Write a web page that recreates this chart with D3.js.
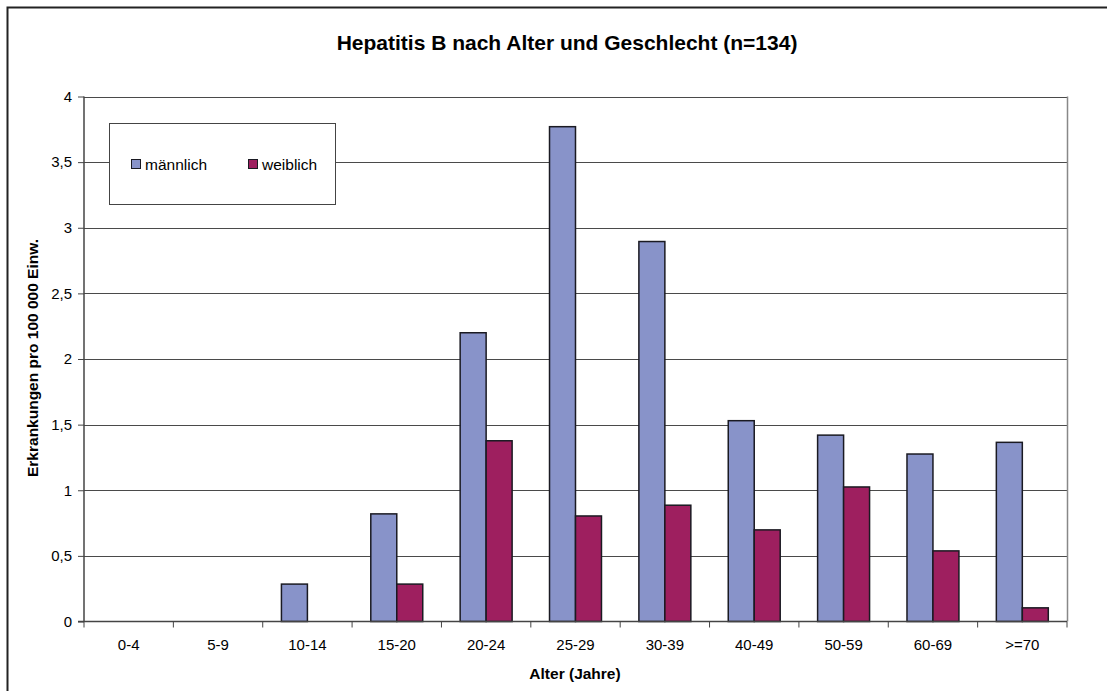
<!DOCTYPE html>
<html>
<head>
<meta charset="utf-8">
<script src="https://cdn.jsdelivr.net/npm/d3@7"></script>
<style>
  html, body { margin: 0; padding: 0; background: #fff; }
  svg { display: block; font-family: "Liberation Sans", Arial, sans-serif; }
</style>
</head>
<body>
<svg id="chart" width="1107" height="691"></svg>
<script>
// Age groups and incidence per 100 000 inhabitants
const categories = ["0-4", "5-9", "10-14", "15-20", "20-24", "25-29", "30-39", "40-49", "50-59", "60-69", ">=70"];
const maleValues   = [0, 0, 0.285, 0.82, 2.20, 3.77, 2.895, 1.53, 1.42, 1.276, 1.365];
const femaleValues = [0, 0, 0, 0.285, 1.377, 0.804, 0.886, 0.698, 1.025, 0.538, 0.104];
const seriesNames = ["männlich", "weiblich"];
const yTicks = [0, 0.5, 1, 1.5, 2, 2.5, 3, 3.5, 4];
const yTickLabels = ["0", "0,5", "1", "1,5", "2", "2,5", "3", "3,5", "4"];

const colors = { "männlich": "#8893c9", "weiblich": "#9e1f5f" };

const svg = d3.select("#chart");
const plot = { left: 84, top: 96.5, right: 1067, bottom: 621.5 };

// Outer chart frame
svg.append("rect")
  .attr("x", 7.5).attr("y", 7.5)
  .attr("width", 1120).attr("height", 720)
  .attr("fill", "none").attr("stroke", "#222").attr("stroke-width", 2);

// Title
svg.append("text")
  .attr("x", 567).attr("y", 50)
  .attr("text-anchor", "middle")
  .attr("font-size", 21).attr("font-weight", "bold")
  .text("Hepatitis B nach Alter und Geschlecht (n=134)");

const x0 = d3.scaleBand().domain(categories).range([plot.left, plot.right]).paddingInner(0).paddingOuter(0);
// two bars per group, with a gap of about 1.43 bar widths between groups
const x1 = d3.scaleBand().domain(seriesNames)
  .range([0, x0.bandwidth()])
  .paddingInner(0)
  .paddingOuter(0.72);
const y = d3.scaleLinear().domain([0, 4]).range([plot.bottom, plot.top]);

// Horizontal gridlines
svg.append("g")
  .selectAll("line")
  .data(yTicks.filter(d => d > 0))
  .join("line")
  .attr("x1", plot.left).attr("x2", plot.right)
  .attr("y1", d => Math.round(y(d)) + 0.5).attr("y2", d => Math.round(y(d)) + 0.5)
  .attr("stroke", "#4a4a4a").attr("stroke-width", 1);

// Right border of the plot area
svg.append("line")
  .attr("x1", plot.right + 0.5).attr("x2", plot.right + 0.5)
  .attr("y1", plot.top).attr("y2", plot.bottom)
  .attr("stroke", "#888").attr("stroke-width", 1.5);

// Bars
const rows = categories.map((c, i) => ({ cat: c, values: [
  { key: "männlich", value: maleValues[i] },
  { key: "weiblich", value: femaleValues[i] }
]}));

const groups = svg.append("g").selectAll("g")
  .data(rows)
  .join("g")
  .attr("transform", d => `translate(${x0(d.cat)},0)`);

groups.selectAll("rect")
  .data(d => d.values.filter(v => v.value > 0))
  .join("rect")
  .attr("x", d => x1(d.key))
  .attr("y", d => y(d.value))
  .attr("width", x1.bandwidth())
  .attr("height", d => y(0) - y(d.value))
  .attr("fill", d => colors[d.key])
  .attr("stroke", "#1a1a22").attr("stroke-width", 1.5);

// Y axis
const yAxis = d3.axisLeft(y)
  .tickValues(yTicks)
  .tickFormat((d, i) => yTickLabels[i])
  .tickSize(6).tickPadding(6);
const gy = svg.append("g").attr("transform", `translate(${plot.left},0)`).call(yAxis);
gy.select(".domain").attr("stroke", "#444").attr("stroke-width", 1.5).attr("d", `M0,${plot.top}V${plot.bottom}`);
gy.selectAll(".tick line").attr("stroke", "#444");
gy.selectAll(".tick text").attr("font-size", 15).attr("fill", "#000")
  .attr("font-family", "'Liberation Sans', Arial, sans-serif");

// X axis with ticks at the category boundaries
const gx = svg.append("g").attr("transform", `translate(0,${plot.bottom})`);
gx.append("line")
  .attr("x1", plot.left - 6).attr("x2", plot.right)
  .attr("stroke", "#444").attr("stroke-width", 1.5);
gx.selectAll("line.tk")
  .data(categories.concat(["end"]))
  .join("line").attr("class", "tk")
  .attr("x1", (d, i) => plot.left + i * x0.bandwidth())
  .attr("x2", (d, i) => plot.left + i * x0.bandwidth())
  .attr("y1", 0).attr("y2", 6)
  .attr("stroke", "#444");
gx.selectAll("text")
  .data(categories)
  .join("text")
  .attr("x", d => x0(d) + x0.bandwidth() / 2)
  .attr("y", 28)
  .attr("text-anchor", "middle")
  .attr("font-size", 15)
  .text(d => d);

// Axis titles
svg.append("text")
  .attr("x", 575).attr("y", 679)
  .attr("text-anchor", "middle")
  .attr("font-size", 15.5).attr("font-weight", "bold")
  .text("Alter (Jahre)");

svg.append("text")
  .attr("transform", "translate(38,358) rotate(-90)")
  .attr("text-anchor", "middle")
  .attr("font-size", 15.5).attr("font-weight", "bold")
  .text("Erkrankungen pro 100 000 Einw.");

// Legend
const lg = svg.append("g");
lg.append("rect")
  .attr("x", 109.5).attr("y", 123.5).attr("width", 226).attr("height", 81)
  .attr("fill", "#fff").attr("stroke", "#444").attr("stroke-width", 1);
const legendItems = [
  { key: "männlich", x: 131 },
  { key: "weiblich", x: 248 }
];
legendItems.forEach(it => {
  lg.append("rect")
    .attr("x", it.x + 0.5).attr("y", 159.5).attr("width", 9).attr("height", 9)
    .attr("fill", colors[it.key]).attr("stroke", "#1a1a22").attr("stroke-width", 1);
  lg.append("text")
    .attr("x", it.x + 14).attr("y", 170)
    .attr("font-size", 15.5)
    .text(it.key);
});
</script>
</body>
</html>
